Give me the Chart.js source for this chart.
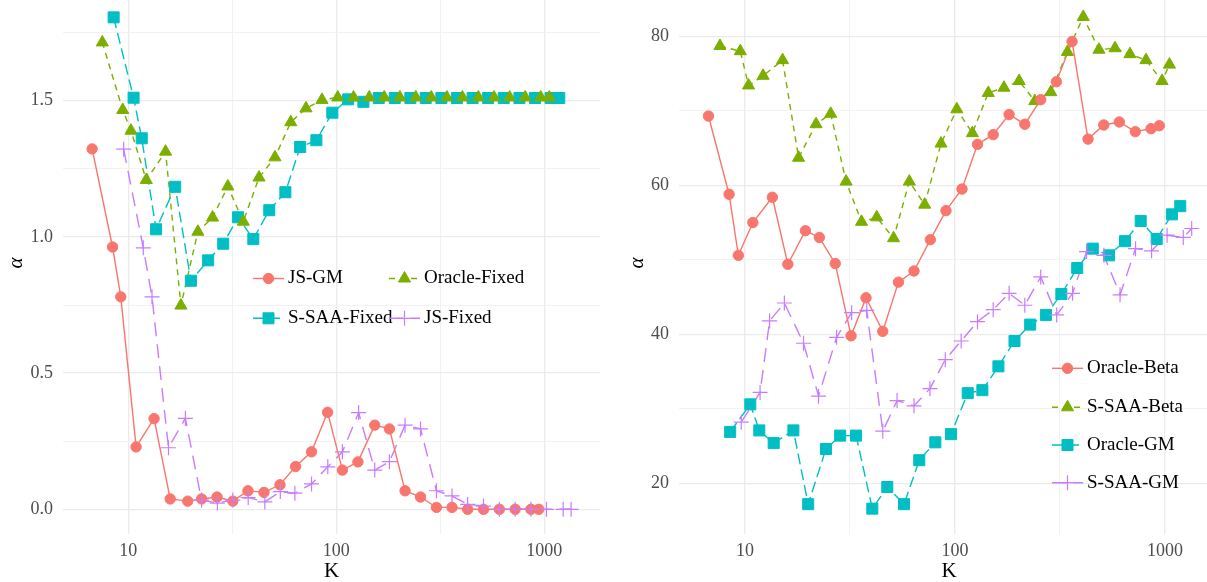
<!DOCTYPE html>
<html>
<head>
<meta charset="utf-8">
<script src="https://cdn.jsdelivr.net/npm/chart.js@4.4.1/dist/chart.umd.min.js"></script>
<style>
  html, body { margin: 0; padding: 0; background: #fff; overflow: hidden; }
  #wrap { position: relative; width: 1207px; height: 582px; overflow: hidden; }
  canvas { position: absolute; top: -8px; }
  #left { left: 0; }
  #right { left: 603px; }
</style>
</head>
<body>
<div id="wrap">
  <canvas id="left" width="603" height="590"></canvas>
  <canvas id="right" width="616" height="590"></canvas>
</div>
<script>
// ---------- left panel: fixed-prior experiments ----------
const kJsGm = [6.7, 8.4, 9.2, 10.9, 13.3, 15.9, 19.3, 22.5, 26.7, 31.8, 37.6, 44.9, 53.6, 63.7, 76, 90.8, 107, 127, 153, 180, 214, 254, 303, 360, 428, 510, 608, 724, 862, 940];
const alphaJsGm = [1.323, 0.963, 0.780, 0.229, 0.333, 0.038, 0.030, 0.038, 0.045, 0.030, 0.068, 0.062, 0.090, 0.157, 0.211, 0.356, 0.144, 0.174, 0.309, 0.295, 0.068, 0.045, 0.007, 0.007, 0, 0, 0, 0, 0, 0];

const kOracleFixed = [7.5, 9.4, 10.3, 12.2, 15.1, 17.9, 21.6, 25.4, 30.1, 35.7, 42.5, 50.7, 60.4, 71.5, 85.3, 101.6, 121, 144, 170, 202, 241, 286, 340, 404, 482, 573, 681, 809, 961, 1057];
const alphaOracleFixed = [1.714, 1.466, 1.390, 1.209, 1.313, 0.748, 1.019, 1.071, 1.185, 1.056, 1.218, 1.292, 1.421, 1.472, 1.503, 1.512, 1.512, 1.512, 1.512, 1.512, 1.512, 1.512, 1.512, 1.512, 1.512, 1.512, 1.512, 1.512, 1.512, 1.512];

const kSsaaFixed = [8.5, 10.6, 11.6, 13.6, 16.8, 20.0, 24.2, 28.6, 33.7, 39.9, 47.6, 56.9, 67.0, 80.2, 95.7, 114, 135, 160, 191, 227, 269, 320, 380, 452, 537, 638, 759, 902, 1072, 1180];
const alphaSsaaFixed = [1.806, 1.511, 1.362, 1.028, 1.184, 0.839, 0.914, 0.975, 1.072, 0.992, 1.098, 1.164, 1.330, 1.355, 1.456, 1.505, 1.496, 1.51, 1.51, 1.51, 1.51, 1.51, 1.51, 1.51, 1.51, 1.51, 1.51, 1.51, 1.51, 1.51];

const kJsFixed = [9.5, 11.8, 13.0, 15.6, 18.8, 22.5, 26.8, 31.8, 37.7, 45.3, 53.8, 63.2, 76, 91, 107, 128, 153, 180, 214, 254, 303, 360, 428, 510, 608, 724, 862, 1024, 1232, 1345];
const alphaJsFixed = [1.322, 0.960, 0.780, 0.226, 0.334, 0.034, 0.023, 0.034, 0.043, 0.027, 0.065, 0.059, 0.093, 0.156, 0.211, 0.355, 0.144, 0.175, 0.309, 0.295, 0.068, 0.049, 0.018, 0.012, 0, 0, 0, 0, 0, 0];

// ---------- right panel: beta / GM experiments ----------
const kOracleBeta = [6.7, 8.4, 9.3, 10.9, 13.5, 16.0, 19.4, 22.6, 26.9, 32.0, 37.7, 45.3, 53.8, 63.8, 76.3, 90.6, 108, 128, 152, 181, 215, 256, 304, 361, 430, 511, 606, 722, 858, 939];
const alphaOracleBeta = [69.3, 58.8, 50.6, 55.0, 58.4, 49.4, 53.9, 53.0, 49.5, 39.8, 44.9, 40.4, 47.0, 48.5, 52.7, 56.6, 59.5, 65.5, 66.8, 69.5, 68.2, 71.5, 73.9, 79.3, 66.2, 68.1, 68.5, 67.2, 67.6, 68.0];

const kSsaaBeta = [7.6, 9.5, 10.4, 12.2, 15.1, 18.0, 21.8, 25.6, 30.3, 35.9, 42.4, 51.0, 60.6, 71.7, 85.8, 102, 121, 144, 171, 202, 240, 286, 343, 408, 485, 578, 681, 812, 968, 1050];
const alphaSsaaBeta = [78.7, 78.0, 73.4, 74.7, 76.8, 63.7, 68.2, 69.6, 60.5, 55.1, 55.7, 52.9, 60.5, 57.4, 65.6, 70.2, 67.0, 72.4, 73.1, 74.0, 71.3, 72.5, 77.9, 82.6, 78.2, 78.4, 77.6, 76.8, 74.0, 76.2];

const kOracleGm = [8.5, 10.6, 11.7, 13.7, 17.0, 20.0, 24.3, 28.4, 33.8, 40.4, 47.6, 57.2, 67.6, 80.6, 95.7, 115, 135, 161, 192, 228, 271, 321, 382, 453, 541, 645, 766, 913, 1079, 1182];
const alphaOracleGm = [26.9, 30.6, 27.1, 25.4, 27.1, 17.2, 24.6, 26.4, 26.4, 16.6, 19.5, 17.2, 23.1, 25.5, 26.6, 32.1, 32.5, 35.7, 39.1, 41.3, 42.6, 45.4, 48.9, 51.5, 50.6, 52.5, 55.2, 52.8, 56.1, 57.2];

const kSsaaGm = [9.6, 11.8, 13.1, 15.4, 19.0, 22.4, 27.3, 32.2, 38.0, 45.3, 53.0, 63.8, 76.0, 89.9, 107, 128, 152, 181, 215, 256, 305, 363, 423, 512, 611, 724, 863, 1023, 1222, 1340];
const alphaSsaaGm = [28.2, 32.2, 41.8, 44.2, 38.8, 31.7, 39.6, 42.9, 43.2, 27.0, 31.1, 30.4, 32.7, 36.6, 39.1, 41.7, 43.3, 45.5, 43.9, 47.7, 42.6, 45.5, 51.1, 50.6, 45.3, 51.5, 51.2, 53.3, 53.0, 54.2];

// ---------- axis ticks ----------
const xGrid = [10, 31.62, 100, 316.2, 1000];
const xLabels = [10, 100, 1000];
const yGridLeft = [0, 0.25, 0.5, 0.75, 1, 1.25, 1.5, 1.75];
const yLabelsLeft = [0, 0.5, 1, 1.5];
const yGridRight = [20, 30, 40, 50, 60, 70, 80];
const yLabelsRight = [20, 40, 60, 80];

const SERIF = '"Liberation Serif", "DejaVu Serif", serif';
const RED = '#F8766D', GREEN = '#7CAE00', CYAN = '#00BFC4', PURPLE = '#C77CFF';

const zip = (ks, vs) => ks.map((k, i) => ({ x: k, y: vs[i] }));

// line pass first, markers on top (lower order = drawn later)
function buildDatasets(series) {
  const lines = series.map((s, i) => ({
    label: s.label,
    data: zip(s.k, s.v),
    showLine: true,
    borderColor: s.color,
    borderWidth: 1.4,
    borderDash: s.dash,
    pointRadius: 0,
    tension: 0,
    order: 100 + i
  }));
  const marks = series.map(s => ({
    label: s.label,
    data: zip(s.k, s.v),
    showLine: false,
    pointStyle: s.point,
    pointRadius: s.r,
    pointBackgroundColor: s.color,
    pointBorderColor: s.color,
    pointBorderWidth: s.point === 'cross' ? 1.2 : 1,
    order: s.z
  }));
  return lines.concat(marks);
}

function drawMarker(ctx, s, x, y) {
  const r = s.r;
  ctx.fillStyle = s.color;
  ctx.strokeStyle = s.color;
  ctx.lineWidth = s.point === 'cross' ? 1.2 : 1;
  ctx.beginPath();
  if (s.point === 'circle') {
    ctx.arc(x, y, r, 0, Math.PI * 2);
    ctx.fill(); ctx.stroke();
  } else if (s.point === 'rect') {
    const h = r * Math.SQRT1_2;
    ctx.rect(x - h, y - h, 2 * h, 2 * h);
    ctx.fill(); ctx.stroke();
  } else if (s.point === 'triangle') {
    ctx.moveTo(x, y - r);
    ctx.lineTo(x + 0.866 * r, y + 0.5 * r);
    ctx.lineTo(x - 0.866 * r, y + 0.5 * r);
    ctx.closePath();
    ctx.fill(); ctx.stroke();
  } else {
    ctx.moveTo(x, y - r); ctx.lineTo(x, y + r);
    ctx.moveTo(x - r, y); ctx.lineTo(x + r, y);
    ctx.stroke();
  }
}

// ggplot-style key: short line + marker + label, placed inside the panel
function keyLegend(items) {
  return {
    id: 'keyLegend',
    afterDraw(chart) {
      const ctx = chart.ctx;
      items.forEach(it => {
        const s = it.s;
        ctx.save();
        ctx.strokeStyle = s.color;
        ctx.lineWidth = 1.4;
        ctx.setLineDash(s.dash);
        ctx.beginPath();
        ctx.moveTo(it.x, it.y);
        ctx.lineTo(it.x + 31, it.y);
        ctx.stroke();
        ctx.setLineDash([]);
        drawMarker(ctx, s, it.x + 15.5, it.y);
        ctx.fillStyle = '#000';
        ctx.font = '19px ' + SERIF;
        ctx.textBaseline = 'middle';
        ctx.textAlign = 'left';
        ctx.fillText(s.label, it.x + 35, it.y);
        ctx.restore();
      });
    }
  };
}

function clearPad(s) {
  s.paddingTop = 0; s.paddingBottom = 0; s.paddingLeft = 0; s.paddingRight = 0;
}

function makeScales(cfg) {
  const gridCol = (major) => ctx => (ctx.tick && major.includes(ctx.tick.value)) ? '#EBEBEB' : '#F2F2F2';
  const gridW = (major) => ctx => (ctx.tick && major.includes(ctx.tick.value)) ? 1.3 : 1;
  return {
    x: {
      type: 'logarithmic',
      min: cfg.xMin, max: cfg.xMax,
      afterBuildTicks: s => { s.ticks = xGrid.map(value => ({ value })); },
      afterFit: s => { s.height = 48; clearPad(s); },
      border: { display: false },
      grid: { drawTicks: false, color: gridCol(xLabels), lineWidth: gridW(xLabels) },
      ticks: {
        autoSkip: false, maxRotation: 0, padding: 6, color: '#4D4D4D',
        font: { family: SERIF, size: 18 },
        callback: v => xLabels.includes(v) ? String(v) : ''
      },
      title: { display: true, text: 'K', color: '#000', padding: 0,
               font: { family: SERIF, size: 21, lineHeight: 1 } }
    },
    y: {
      type: 'linear',
      min: cfg.yMin, max: cfg.yMax,
      afterBuildTicks: s => { s.ticks = cfg.yGrid.map(value => ({ value })); },
      afterFit: s => { s.width = cfg.yWidth; clearPad(s); },
      border: { display: false },
      grid: { drawTicks: false, color: gridCol(cfg.yLabels), lineWidth: gridW(cfg.yLabels) },
      ticks: {
        autoSkip: false, padding: 10, color: '#4D4D4D',
        font: { family: SERIF, size: 18 },
        callback: v => cfg.yLabels.includes(v) ? cfg.fmt(v) : ''
      },
      title: { display: true, text: 'α', color: '#000', padding: { top: cfg.titlePad, bottom: 0 },
               font: { family: SERIF, size: 21, style: 'italic', lineHeight: 1 } }
    }
  };
}

function makeChart(id, series, legendItems, cfg) {
  return new Chart(document.getElementById(id), {
    type: 'scatter',
    data: { datasets: buildDatasets(series) },
    options: {
      responsive: false,
      animation: false,
      layout: { autoPadding: false, padding: { left: 0, right: cfg.padRight, top: 0, bottom: 0 } },
      plugins: { legend: { display: false }, tooltip: { enabled: false } },
      scales: makeScales(cfg)
    },
    plugins: [keyLegend(legendItems)]
  });
}

// left panel
const sJsGm = { label: 'JS-GM', k: kJsGm, v: alphaJsGm, color: RED, dash: [], point: 'circle', r: 5.2, z: 3 };
const sOracleFixed = { label: 'Oracle-Fixed', k: kOracleFixed, v: alphaOracleFixed, color: GREEN, dash: [6, 5], point: 'triangle', r: 7, z: 1 };
const sSsaaFixed = { label: 'S-SAA-Fixed', k: kSsaaFixed, v: alphaSsaaFixed, color: CYAN, dash: [11, 5], point: 'rect', r: 7.8, z: 2 };
const sJsFixed = { label: 'JS-Fixed', k: kJsFixed, v: alphaJsFixed, color: PURPLE, dash: [14, 8], point: 'cross', r: 7.5, z: 0 };

makeChart('left', [sJsGm, sOracleFixed, sSsaaFixed, sJsFixed], [
  { s: sJsGm, x: 253, y: 286.5 },
  { s: sOracleFixed, x: 389, y: 286.5 },
  { s: sSsaaFixed, x: 253, y: 326.3 },
  { s: sJsFixed, x: 389, y: 326.3 }
], {
  xMin: 4.853, xMax: 1852,
  yMin: -0.0907, yMax: 1.8991,
  yGrid: yGridLeft, yLabels: yLabelsLeft, fmt: v => v.toFixed(1),
  yWidth: 63, titlePad: 6, padRight: 3
});

// right panel
const sOracleBeta = { label: 'Oracle-Beta', k: kOracleBeta, v: alphaOracleBeta, color: RED, dash: [], point: 'circle', r: 5.2, z: 1 };
const sSsaaBeta = { label: 'S-SAA-Beta', k: kSsaaBeta, v: alphaSsaaBeta, color: GREEN, dash: [6, 5], point: 'triangle', r: 7, z: 2 };
const sOracleGm = { label: 'Oracle-GM', k: kOracleGm, v: alphaOracleGm, color: CYAN, dash: [11, 5], point: 'rect', r: 7.8, z: 3 };
const sSsaaGm = { label: 'S-SAA-GM', k: kSsaaGm, v: alphaSsaaGm, color: PURPLE, dash: [14, 8], point: 'cross', r: 7.5, z: 0 };

makeChart('right', [sOracleBeta, sSsaaBeta, sOracleGm, sSsaaGm], [
  { s: sOracleBeta, x: 449, y: 376.3 },
  { s: sSsaaBeta, x: 449, y: 415.3 },
  { s: sOracleGm, x: 449, y: 453 },
  { s: sSsaaGm, x: 449, y: 490.7 }
], {
  xMin: 4.851, xMax: 1807.6,
  yMin: 13.195, yMax: 85.946,
  yGrid: yGridRight, yLabels: yLabelsRight, fmt: v => String(v),
  yWidth: 76, titlePad: 24, padRight: 0
});
</script>
</body>
</html>
